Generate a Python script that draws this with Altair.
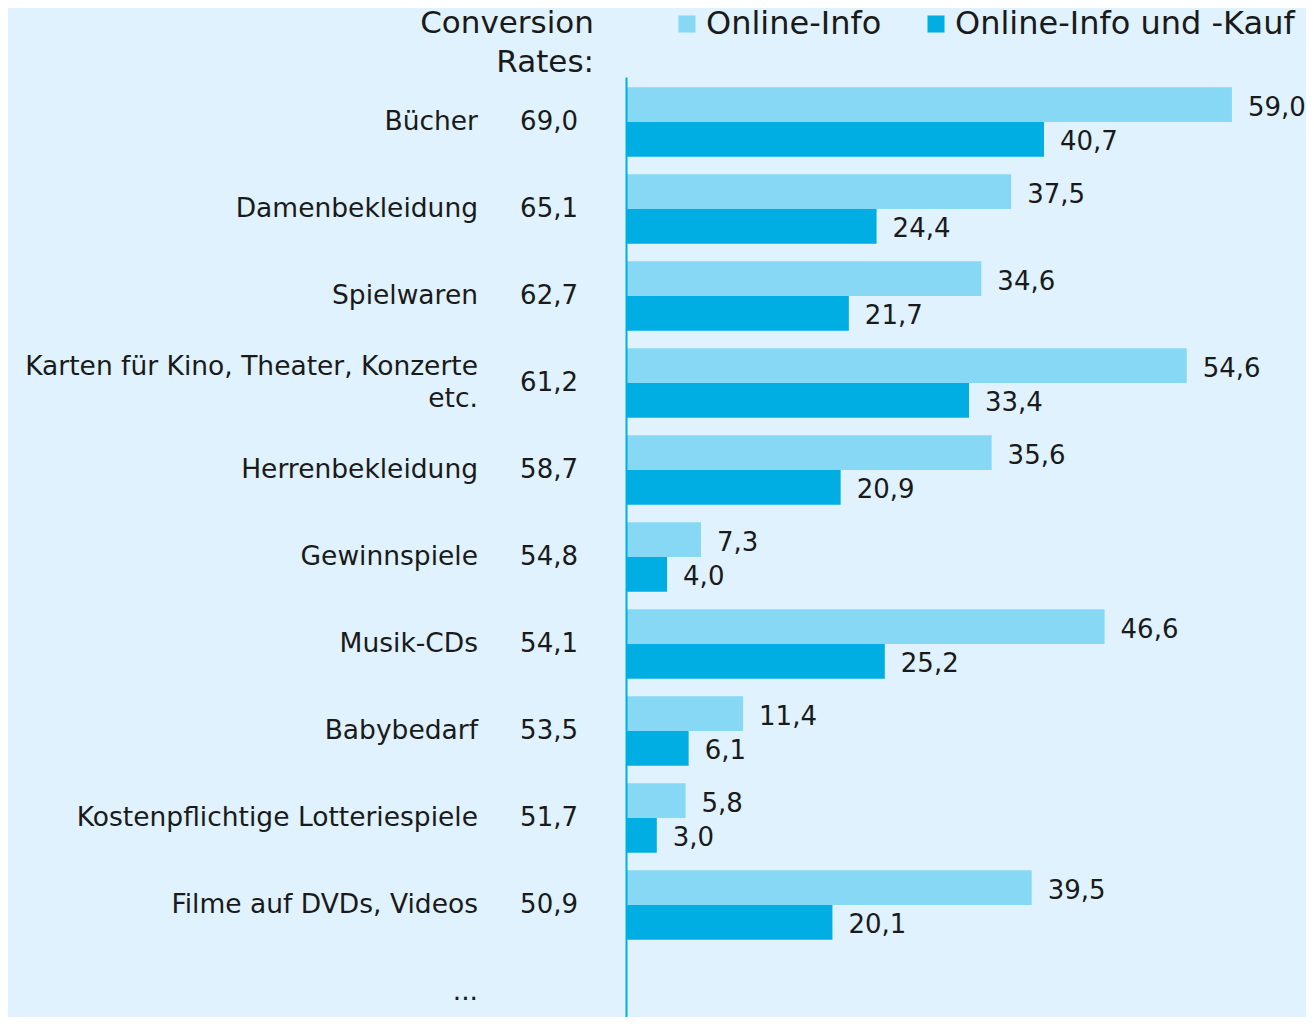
import altair as alt
import pandas as pd

categories = [
    "Bücher",
    "Damenbekleidung",
    "Spielwaren",
    "Karten für Kino, Theater, Konzerte\netc.",
    "Herrenbekleidung",
    "Gewinnspiele",
    "Musik-CDs",
    "Babybedarf",
    "Kostenpflichtige Lotteriespiele",
    "Filme auf DVDs, Videos",
    "...",
]
conversion_rates = [69.0, 65.1, 62.7, 61.2, 58.7, 54.8, 54.1, 53.5, 51.7, 50.9, None]
online_info = [59.0, 37.5, 34.6, 54.6, 35.6, 7.3, 46.6, 11.4, 5.8, 39.5]
online_info_kauf = [40.7, 24.4, 21.7, 33.4, 20.9, 4.0, 25.2, 6.1, 3.0, 20.1]
series_names = ["Online-Info", "Online-Info und -Kauf"]
heading = "Conversion\nRates:"

LIGHT = "#87d8f5"
DARK = "#00aee4"
BG = "#dff2fd"
TXT = "#1a1a1a"
FONT = "DejaVu Sans"


def fmt(v):
    return f"{v:.1f}".replace(".", ",")


rows = pd.DataFrame(
    {
        "cat": categories,
        "idx": list(range(len(categories))),
        "conv": [fmt(v) if v is not None else "" for v in conversion_rates],
    }
)

recs = []
for i, (a, b) in enumerate(zip(online_info, online_info_kauf)):
    recs.append({"idx": i, "series": series_names[0], "value": a, "label": fmt(a)})
    recs.append({"idx": i, "series": series_names[1], "value": b, "label": fmt(b)})
bars_df = pd.DataFrame(recs)

W = 680
H = 940
xscale = alt.Scale(domain=[0, W / 10.27], nice=False, zero=True)
ytop = -0.517
yscale = alt.Scale(domain=[ytop, ytop + H / 87.0], nice=False, zero=False, reverse=True)

base_bars = alt.Chart(bars_df).transform_calculate(
    y0="datum.series == 'Online-Info' ? datum.idx - 0.4 : datum.idx",
    y1="datum.series == 'Online-Info' ? datum.idx : datum.idx + 0.4",
    ymid="datum.series == 'Online-Info' ? datum.idx - 0.2 : datum.idx + 0.2",
)

bars = base_bars.mark_bar(strokeWidth=0).encode(
    x=alt.X("value:Q", scale=xscale, axis=None),
    x2=alt.datum(0),
    y=alt.Y(
        "y0:Q",
        scale=yscale,
        axis=alt.Axis(
            domain=True,
            domainColor=DARK,
            domainWidth=2,
            ticks=False,
            labels=False,
            grid=False,
            title=None,
            zindex=1,
        ),
    ),
    y2="y1:Q",
    color=alt.Color(
        "series:N",
        scale=alt.Scale(domain=series_names, range=[LIGHT, DARK]),
        legend=alt.Legend(
            orient="none",
            legendX=45,
            legendY=-69,
            direction="horizontal",
            title=None,
            symbolType="square",
            symbolSize=290,
            symbolStrokeWidth=0,
            symbolOpacity=1,
            labelFontSize=32,
            labelFont=FONT,
            labelColor=TXT,
            labelLimit=0,
            labelOffset=3,
            columnPadding=38,
            padding=0,
        ),
    ),
)

value_labels = base_bars.mark_text(
    align="left", baseline="middle", dx=16, dy=3, fontSize=26, font=FONT, color=TXT
).encode(
    x=alt.X("value:Q", scale=xscale),
    y=alt.Y("ymid:Q", scale=yscale),
    text="label:N",
)

cat_single = alt.Chart(rows).transform_filter(
    "indexof(datum.cat, '\\n') < 0"
).mark_text(
    align="right", baseline="middle", dy=0, fontSize=26.5, font=FONT, color=TXT,
).encode(
    x=alt.value(-148),
    y=alt.Y("idx:Q", scale=yscale),
    text="cat:N",
)

cat_multi = alt.Chart(rows).transform_filter(
    "indexof(datum.cat, '\\n') >= 0"
).mark_text(
    align="right", baseline="middle", dy=-16, fontSize=26.5, font=FONT, color=TXT,
    lineBreak="\n", lineHeight=32,
).encode(
    x=alt.value(-148),
    y=alt.Y("idx:Q", scale=yscale),
    text="cat:N",
)

conv_labels = alt.Chart(rows).mark_text(
    align="right", baseline="middle", dy=0, fontSize=26, font=FONT, color=TXT,
).encode(
    x=alt.value(-48),
    y=alt.Y("idx:Q", scale=yscale),
    text="conv:N",
)

head = alt.Chart(pd.DataFrame({"t": [heading]})).mark_text(
    align="right", baseline="alphabetic", fontSize=31, font=FONT, color=TXT,
    lineBreak="\n", lineHeight=39,
).encode(
    x=alt.value(-32),
    y=alt.value(-44),
    text="t:N",
)

chart = (
    alt.layer(bars, value_labels, cat_single, cat_multi, conv_labels, head)
    .properties(
        width=W,
        height=H,
        autosize=alt.AutoSizeParams(type="none"),
        padding={"left": 618, "top": 69, "right": 0, "bottom": 0},
        background=BG,
    )
    .configure_view(stroke=None)
)

chart.save("out.html", embed_options={"renderer": "svg", "actions": False})
